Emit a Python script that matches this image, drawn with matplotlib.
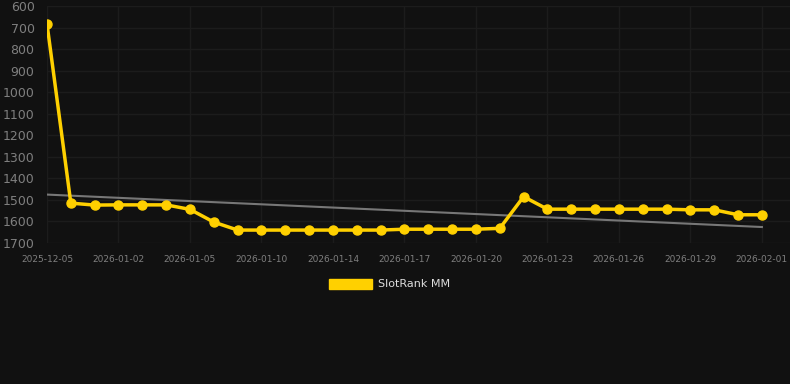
import numpy as np
import matplotlib
matplotlib.use("Agg")
import matplotlib.pyplot as plt
from matplotlib.patches import Patch

# Data (rank, lower is better)
dates = ['2025-12-05', '2025-12-07', '2025-12-31', '2026-01-02', '2026-01-03',
         '2026-01-04', '2026-01-05', '2026-01-07', '2026-01-08', '2026-01-10',
         '2026-01-11', '2026-01-13', '2026-01-14', '2026-01-15', '2026-01-16',
         '2026-01-17', '2026-01-18', '2026-01-19', '2026-01-20', '2026-01-21',
         '2026-01-22', '2026-01-23', '2026-01-24', '2026-01-25', '2026-01-26',
         '2026-01-27', '2026-01-28', '2026-01-29', '2026-01-30', '2026-01-31',
         '2026-02-01']
ranks = [683, 1515, 1524, 1523, 1523, 1523, 1544, 1603, 1640, 1640,
         1640, 1640, 1640, 1640, 1640, 1636, 1636, 1636, 1636, 1632,
         1485, 1543, 1543, 1543, 1543, 1543, 1543, 1546, 1546, 1569,
         1569]
yticks = [600, 700, 800, 900, 1000, 1100, 1200, 1300, 1400, 1500, 1600, 1700]
series_name = 'SlotRank MM'

BG = '#111111'
YELLOW = '#ffd000'
GRID = '#1c1c1c'
TICK = '#7f7f7f'

x = np.arange(len(dates))

# linear trend over the series
slope, intercept = np.polyfit(x, ranks, 1)
trend = slope * x + intercept

fig = plt.figure(figsize=(7.9, 3.84), dpi=100)
fig.patch.set_facecolor(BG)
ax = fig.add_axes([47 / 790, 1 - 243 / 384, 743 / 790, 237 / 384])
ax.set_facecolor(BG)

ax.plot(x, trend, color='#777777', linewidth=1.5, zorder=2)
ax.plot(x, ranks, color=YELLOW, linewidth=2.5, marker='o', markersize=6.5,
        markerfacecolor=YELLOW, markeredgecolor=YELLOW, zorder=3)

ax.set_ylim(1700, 600)
ax.set_yticks(yticks)
ax.set_yticklabels([str(v) for v in yticks])
tick_idx = list(range(0, len(dates), 3))
ax.set_xticks(tick_idx)
ax.set_xticklabels([dates[i] for i in tick_idx])
ax.set_xlim(0, (790 - 47) / 23.83)

ax.grid(True, color=GRID, linewidth=1)
ax.set_axisbelow(True)
for s in ax.spines.values():
    s.set_visible(False)
ax.tick_params(axis='y', colors=TICK, labelsize=9, length=0, pad=9)
ax.tick_params(axis='x', colors=TICK, labelsize=6.5, length=0, pad=9)

handle = Patch(facecolor=YELLOW, edgecolor=YELLOW, label=series_name)
leg = fig.legend(handles=[handle], loc='center', bbox_to_anchor=(390 / 790, 1 - 284 / 384),
                 frameon=False, fontsize=8, handlelength=3.8, handleheight=1.0,
                 handletextpad=0.6)
for t in leg.get_texts():
    t.set_color('#dddddd')

fig.savefig('out.png', dpi=100, facecolor=BG)
